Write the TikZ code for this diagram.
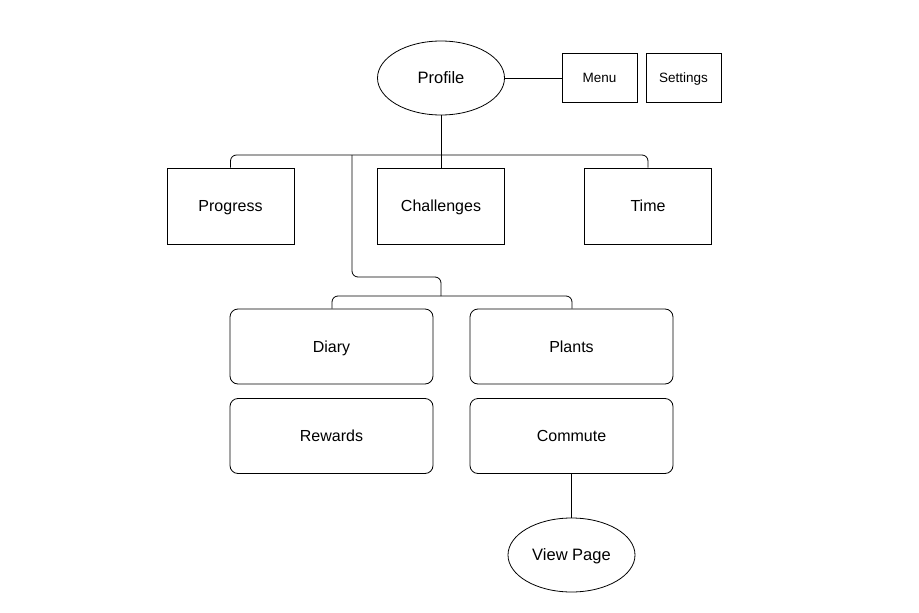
\documentclass[tikz,border=0pt]{standalone}
\usepackage{fontspec}
\setmainfont{Liberation Sans}
\usetikzlibrary{positioning, calc, shapes.geometric}

\tikzset{
  every node/.style={text depth=0pt},
  box/.style={draw, thick, minimum width=127pt, minimum height=76pt, text height=11.5pt, font=\fontsize{16}{18}\selectfont},
  smallbox/.style={draw, thick, minimum width=75pt, minimum height=49pt, text height=9.7pt, font=\fontsize{13.5}{15}\selectfont},
  roundbox/.style={draw, thick, rounded corners=8pt, minimum width=203pt, minimum height=75pt, text height=11.5pt, font=\fontsize{16}{18}\selectfont},
  oval/.style={draw, thick, ellipse, minimum width=127pt, minimum height=74pt, inner sep=0pt, text height=11.9pt, font=\fontsize{16.5}{18}\selectfont},
  link/.style={thick, rounded corners=6pt}
}

\begin{document}
\begin{tikzpicture}[x=1pt, y=-1pt]
  \useasboundingbox (0,0) rectangle (919,613);

  \node[oval] (profile) at (441,78) {Profile};
  \node[smallbox] (menu) at (599.5,78) {Menu};
  \node[smallbox] (settings) at (683.5,78) {Settings};

  \node[box] (progress) at (230.5,206) {Progress};
  \node[box] (challenges) at (441,206) {Challenges};
  \node[box] (time) at (648,206) {Time};

  \node[roundbox] (diary) at (331.5,346.5) {Diary};
  \node[roundbox] (plants) at (571.5,346.5) {Plants};
  \node[roundbox] (rewards) at (331.5,436) {Rewards};
  \node[roundbox] (commute) at (571.5,436) {Commute};

  \node[oval] (viewpage) at (571.5,555) {View Page};

  % top level
  \draw[thick] (profile.east) -- (menu.west);
  \draw[thick] (profile.south) -- (challenges.north);
  \draw[link] (progress.north) |- (441,155) -| (time.north);

  % second level
  \coordinate (fork) at (352,155);
  \draw[link] (fork) |- (441,277) -- (441,296);
  \draw[link] (diary.north -| 332,0) |- (441,296) -| (plants.north -| 572,0);

  \draw[thick] (commute.south) -- (viewpage.north);
\end{tikzpicture}
\end{document}
